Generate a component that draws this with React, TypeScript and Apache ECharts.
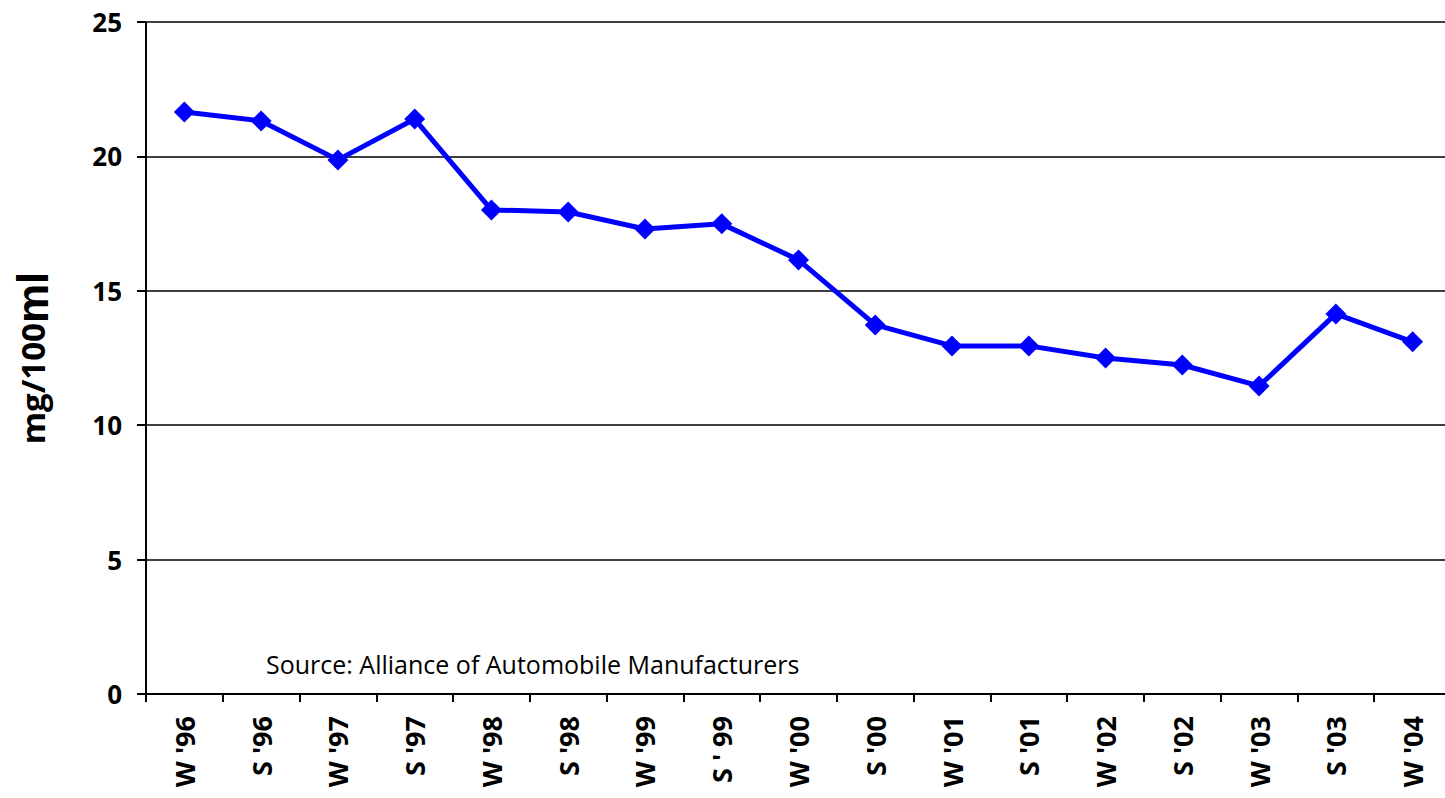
import React, { useEffect, useRef } from "react";
import * as echarts from "echarts";

const categories = ["W '96", "S '96", "W '97", "S '97", "W '98", "S '98", "W '99", "S ' 99", "W '00", "S '00", "W '01", "S '01", "W '02", "S '02", "W '03", "S '03", "W '04"];
const values = [21.65, 21.32, 19.87, 21.39, 18.01, 17.93, 17.3, 17.49, 16.15, 13.73, 12.95, 12.95, 12.5, 12.24, 11.46, 14.14, 13.1];
const yTicks = { min: 0, max: 25, interval: 5 };
const yNameParts = ["mg/100", "ml"];
const source = "Source: Alliance of Automobile Manufacturers";

export default function App() {
  const ref = useRef<HTMLDivElement>(null);
  useEffect(() => {
    if (!ref.current) return;
    const chart = echarts.init(ref.current, null, { renderer: "svg" });
    const font = "'Open Sans', sans-serif";
    chart.setOption({
      animation: false,
      backgroundColor: "#ffffff",
      grid: { left: 146, top: 22, right: 1, height: 672, containLabel: false },
      xAxis: {
        type: "category",
        data: categories,
        boundaryGap: true,
        axisLine: { lineStyle: { color: "#000", width: 2 } },
        axisTick: { show: true, length: 8, lineStyle: { color: "#000", width: 2 }, alignWithLabel: false },
        axisLabel: { rotate: 90, margin: 22, color: "#000", fontWeight: "bold", fontSize: 27, fontFamily: font, interval: 0 },
        splitLine: { show: false },
      },
      yAxis: {
        type: "value",
        min: yTicks.min,
        max: yTicks.max,
        interval: yTicks.interval,
        name: `{a|${yNameParts[0]}}{b|${yNameParts[1]}}`,
        nameLocation: "middle",
        nameGap: 92,
        nameRotate: 90,
        nameTextStyle: {
          color: "#000",
          rich: {
            a: { color: "#000", fontWeight: "bold", fontSize: 33, fontFamily: font },
            b: { color: "#000", fontWeight: "bold", fontSize: 44, fontFamily: "'Liberation Sans', Arial, sans-serif" },
          },
        },
        axisLine: { show: true, lineStyle: { color: "#000", width: 2 } },
        axisTick: { show: true, length: 9, lineStyle: { color: "#000", width: 2 } },
        axisLabel: { margin: 24, color: "#000", fontWeight: "bold", fontSize: 26, fontFamily: font },
        splitLine: { show: true, lineStyle: { color: "#000", width: 1.5 } },
      },
      graphic: [
        {
          type: "text",
          left: 266,
          top: 651,
          style: { text: source, fill: "#000", fontSize: 25, fontFamily: font },
        },
      ],
      series: [
        {
          type: "line",
          data: values,
          symbol: "diamond",
          symbolSize: 21,
          lineStyle: { color: "#0000ff", width: 5 },
          itemStyle: { color: "#0000ff" },
        },
      ],
    });
    return () => chart.dispose();
  }, []);
  return (
    <div style={{ position: "fixed", left: 0, top: 0, width: 1445, height: 798, overflow: "hidden", background: "#fff" }}>
      <div ref={ref} style={{ position: "absolute", left: 0, top: 0, width: 1452, height: 798 }} />
    </div>
  );
}
